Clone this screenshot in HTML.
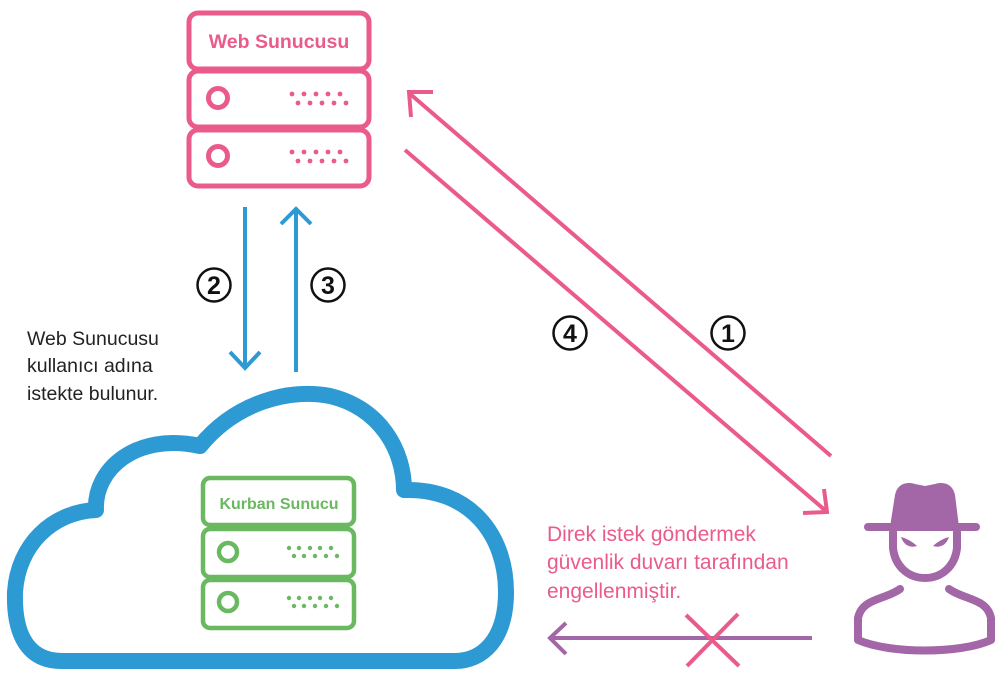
<!DOCTYPE html>
<html><head><meta charset="utf-8"><style>
html,body{margin:0;padding:0;background:#fff;}
svg{display:block;}
</style></head><body>
<svg width="1000" height="679" viewBox="0 0 1000 679" xmlns="http://www.w3.org/2000/svg">
<!-- Web server -->
<g fill="none" stroke="#EA5B8C" stroke-width="5">
  <rect x="189" y="13" width="180" height="56" rx="9"/>
  <rect x="189" y="71" width="180" height="56" rx="9"/>
  <rect x="189" y="130" width="180" height="56" rx="9"/>
  <circle cx="218" cy="98" r="9.5"/>
  <circle cx="218" cy="156" r="9.5"/>
</g>
<g fill="#EA5B8C">
  <circle cx="292" cy="94" r="2.4"/><circle cx="304" cy="94" r="2.4"/><circle cx="316" cy="94" r="2.4"/><circle cx="328" cy="94" r="2.4"/><circle cx="340" cy="94" r="2.4"/>
  <circle cx="298" cy="103" r="2.4"/><circle cx="310" cy="103" r="2.4"/><circle cx="322" cy="103" r="2.4"/><circle cx="334" cy="103" r="2.4"/><circle cx="346" cy="103" r="2.4"/>
  <circle cx="292" cy="152" r="2.4"/><circle cx="304" cy="152" r="2.4"/><circle cx="316" cy="152" r="2.4"/><circle cx="328" cy="152" r="2.4"/><circle cx="340" cy="152" r="2.4"/>
  <circle cx="298" cy="161" r="2.4"/><circle cx="310" cy="161" r="2.4"/><circle cx="322" cy="161" r="2.4"/><circle cx="334" cy="161" r="2.4"/><circle cx="346" cy="161" r="2.4"/>
</g>
<text x="279" y="48" text-anchor="middle" font-family="Liberation Sans, sans-serif" font-weight="bold" font-size="19.5" fill="#EA5B8C">Web Sunucusu</text>

<!-- blue arrows -->
<g fill="none" stroke="#2E9AD3" stroke-width="4">
  <line x1="245" y1="207" x2="245" y2="368"/>
  <polyline points="230,352 245,368 260,352"/>
  <line x1="296" y1="372" x2="296" y2="210"/>
  <polyline points="281,224 296,209 311,224"/>
</g>

<!-- circled numbers -->
<g font-family="Liberation Sans, sans-serif" font-weight="bold" font-size="25" text-anchor="middle" fill="#111">
  <circle cx="214" cy="285" r="16.5" fill="none" stroke="#111" stroke-width="2.5"/><text x="214" y="294">2</text>
  <circle cx="328" cy="285" r="16.5" fill="none" stroke="#111" stroke-width="2.5"/><text x="328" y="294">3</text>
  <circle cx="570" cy="333" r="16.5" fill="none" stroke="#111" stroke-width="2.5"/><text x="570" y="342">4</text>
  <circle cx="728" cy="333" r="16.5" fill="none" stroke="#111" stroke-width="2.5"/><text x="728" y="342">1</text>
</g>

<!-- pink diagonals -->
<g fill="none" stroke="#EA5B8C" stroke-width="4">
  <line x1="409" y1="93" x2="831" y2="456"/>
  <polyline points="433,92 409,92 411,117"/>
  <line x1="405" y1="150" x2="826" y2="511"/>
  <polyline points="824,489 827,512 803,513"/>
</g>

<!-- left text -->
<g font-family="Liberation Sans, sans-serif" font-size="19.5" fill="#222">
  <text x="27" y="345">Web Sunucusu</text>
  <text x="27" y="372">kullanıcı adına</text>
  <text x="27" y="400">istekte bulunur.</text>
</g>

<!-- cloud -->
<path d="M62,661 C22,661 14,625 15,592 C18,545 52,512 96,510 C94,470 135,432 200,446 C236,402 290,388 330,396 C380,408 404,450 404,490 C470,488 506,535 506,592 C506,640 482,661 455,661 Z" fill="none" stroke="#2E9AD3" stroke-width="16" stroke-linejoin="round"/>

<!-- green server -->
<g fill="none" stroke="#6AB85F" stroke-width="4.5">
  <rect x="203" y="478" width="151" height="47" rx="7"/>
  <rect x="203" y="529" width="151" height="48" rx="7"/>
  <rect x="203" y="580" width="151" height="48" rx="7"/>
  <circle cx="228" cy="552" r="9"/>
  <circle cx="228" cy="602" r="9"/>
</g>
<g fill="#6AB85F">
  <circle cx="289" cy="548" r="2.2"/><circle cx="299" cy="548" r="2.2"/><circle cx="310" cy="548" r="2.2"/><circle cx="320" cy="548" r="2.2"/><circle cx="331" cy="548" r="2.2"/>
  <circle cx="294" cy="556" r="2.2"/><circle cx="304" cy="556" r="2.2"/><circle cx="315" cy="556" r="2.2"/><circle cx="326" cy="556" r="2.2"/><circle cx="337" cy="556" r="2.2"/>
  <circle cx="289" cy="598" r="2.2"/><circle cx="299" cy="598" r="2.2"/><circle cx="310" cy="598" r="2.2"/><circle cx="320" cy="598" r="2.2"/><circle cx="331" cy="598" r="2.2"/>
  <circle cx="294" cy="606" r="2.2"/><circle cx="304" cy="606" r="2.2"/><circle cx="315" cy="606" r="2.2"/><circle cx="326" cy="606" r="2.2"/><circle cx="337" cy="606" r="2.2"/>
</g>
<text x="279" y="509" text-anchor="middle" font-family="Liberation Sans, sans-serif" font-weight="bold" font-size="16" fill="#6AB85F">Kurban Sunucu</text>

<!-- pink text -->
<g font-family="Liberation Sans, sans-serif" font-size="21" fill="#EA5B8C">
  <text x="547" y="541">Direk istek göndermek</text>
  <text x="547" y="569">güvenlik duvarı tarafından</text>
  <text x="547" y="598">engellenmiştir.</text>
</g>

<!-- purple blocked arrow -->
<g fill="none" stroke="#A366A6" stroke-width="4">
  <line x1="812" y1="638" x2="550" y2="638"/>
  <polyline points="566,623 550,638 566,654"/>
</g>
<g stroke="#EA5B8C" stroke-width="4">
  <line x1="686" y1="615" x2="739" y2="666"/>
  <line x1="738" y1="614" x2="687" y2="666"/>
</g>

<!-- hacker -->
<g fill="#A366A6">
  <path d="M890,527 L895,495 C897,485 905,481 915,484 L925,486 L935,484 C945,481 953,485 955,495 L959,527 Z"/>
  <path d="M901,537 C905,538 912,541 917,546 C911,548 904,546 901,537 Z"/>
  <path d="M949,537 C945,538 938,541 933,546 C939,548 946,546 949,537 Z"/>
</g>
<g fill="none" stroke="#A366A6" stroke-width="8" stroke-linecap="round" stroke-linejoin="round">
  <line x1="868" y1="527" x2="976" y2="527"/>
  <path d="M893,532 L893,548 C895,566 908,578 925,578 C942,578 955,566 957,548 L957,532"/>
  <path d="M900,589 C885,600 862,598 858,618 L858,640 C890,654 960,654 991,640 L991,618 C987,598 964,600 949,589"/>
</g>
</svg>
</body></html>
